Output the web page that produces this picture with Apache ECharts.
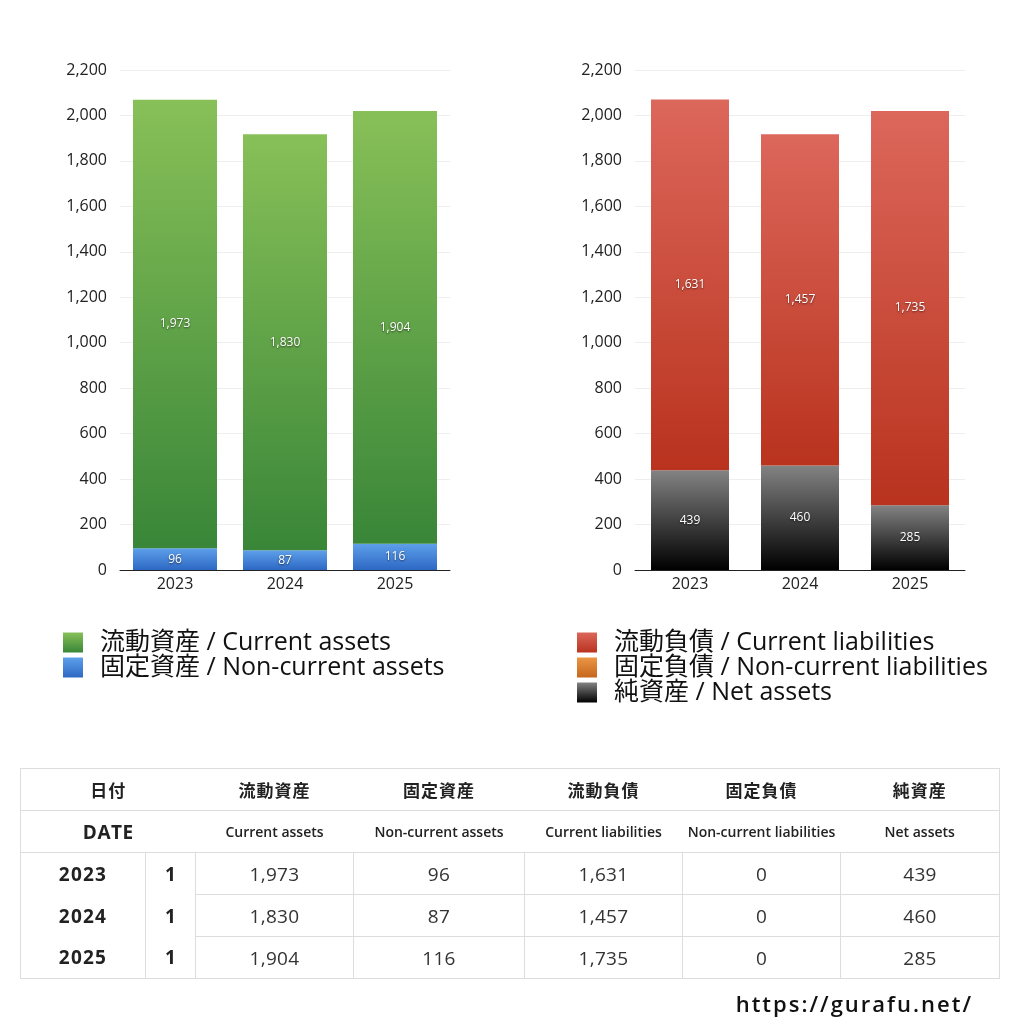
<!DOCTYPE html>
<html><head><meta charset="utf-8">
<script src="https://cdn.jsdelivr.net/npm/echarts@6/dist/echarts.min.js"></script>
<style>
html,body{margin:0;padding:0;background:#fff;}
#chart{position:absolute;left:0;top:0;width:1024px;height:1024px;}
#tbl{position:absolute;left:20px;top:768px;width:979px;border-collapse:collapse;table-layout:fixed;
  font-family:'Open Sans','Noto Sans CJK JP',sans-serif;color:#222;border:1px solid #ddd;}
#tbl td{padding:0;text-align:center;vertical-align:middle;height:41px;white-space:nowrap;overflow:hidden;}
#tbl tr.h1 td{font-size:17px;font-weight:700;border-bottom:1px solid #ddd;letter-spacing:1px;font-family:'Noto Sans CJK JP',sans-serif;}
#tbl tr.h2 td{font-size:14px;font-weight:600;border-bottom:1px solid #ddd;}
#tbl tr.h2 td.date{font-size:19px;font-weight:700;letter-spacing:0.5px;}
#tbl td.yr{font-size:19px;font-weight:700;letter-spacing:1.2px;}
#tbl td.one{font-size:19px;font-weight:700;border-left:1px solid #ddd;}
#tbl td.val{font-size:19px;font-weight:400;color:#333;border-left:1px solid #ddd;border-bottom:1px solid #ddd;letter-spacing:0.3px;}
#url{position:absolute;left:660px;top:988px;width:313px;text-align:right;font-family:'Open Sans','Noto Sans',sans-serif;
  font-size:22px;font-weight:600;color:#111;line-height:30px;letter-spacing:2px;}
</style></head><body>
<div id="chart"></div>
<table id="tbl"></table>
<div id="url">https://gurafu.net/</div>
<script>
const years = ['2023', '2024', '2025'];
const currentAssets = [1973, 1830, 1904];
const nonCurrentAssets = [96, 87, 116];
const currentLiabilities = [1631, 1457, 1735];
const nonCurrentLiabilities = [0, 0, 0];
const netAssets = [439, 460, 285];
const monthCol = [1, 1, 1];
const headerJa = ['流動資産', '固定資産', '流動負債', '固定負債', '純資産'];
const headerEn = ['Current assets', 'Non-current assets', 'Current liabilities', 'Non-current liabilities', 'Net assets'];
const yMin = 0, yMax = 2200, yInterval = 200;

const FONT = "'Open Sans','Noto Sans CJK JP',sans-serif";
function grad(top, bottom) {
  return new echarts.graphic.LinearGradient(0, 0, 0, 1, [{offset: 0, color: top}, {offset: 1, color: bottom}]);
}
const fmt = v => v.toLocaleString('en-US');
const label = {
  show: true, position: 'inside', color: '#fff', fontSize: 12, fontFamily: FONT,
  textShadowColor: 'rgba(0,0,0,0.6)', textShadowBlur: 2, textShadowOffsetY: 1,
  formatter: p => p.value ? fmt(p.value) : ''
};
const names = headerJa.map((j, i) => j + ' / ' + headerEn[i]);

function xAx(gi) {
  return {
    type: 'category', gridIndex: gi, data: years,
    axisLine: {lineStyle: {color: '#222', width: 1}}, axisTick: {show: false},
    axisLabel: {fontSize: 16, color: '#222', margin: 6, fontFamily: FONT}
  };
}
function yAx(gi) {
  return {
    type: 'value', gridIndex: gi, min: yMin, max: yMax, interval: yInterval,
    axisLine: {show: false}, axisTick: {show: false},
    splitLine: {lineStyle: {color: '#eeeeee'}},
    axisLabel: {fontSize: 16, color: '#222', margin: 13, fontFamily: FONT, formatter: v => fmt(v)}
  };
}
const legendText = {fontSize: 25, color: '#111', fontFamily: FONT, padding: [0, 0, 0, 12], lineHeight: 24};

const option = {
  backgroundColor: '#fff',
  animation: false,
  grid: [
    {left: 120, right: 574, top: 70, bottom: 454},
    {left: 635, right: 59, top: 70, bottom: 454}
  ],
  xAxis: [xAx(0), xAx(1)],
  yAxis: [yAx(0), yAx(1)],
  legend: [
    {left: 63, top: 630, padding: 0, orient: 'vertical', icon: 'rect', itemWidth: 20, itemHeight: 20, itemGap: 0,
     selectedMode: false, data: [names[0], names[1]], textStyle: legendText},
    {left: 577, top: 630, padding: 0, orient: 'vertical', icon: 'rect', itemWidth: 20, itemHeight: 20, itemGap: 0,
     selectedMode: false, data: [names[2], names[3], names[4]], textStyle: legendText}
  ],
  series: [
    {name: names[1], type: 'bar', stack: 'a', xAxisIndex: 0, yAxisIndex: 0, barWidth: 84,
     data: nonCurrentAssets, itemStyle: {color: grad('#5ea0ea', '#2d68c4')}, label},
    {name: names[0], type: 'bar', stack: 'a', xAxisIndex: 0, yAxisIndex: 0, barWidth: 84,
     data: currentAssets, itemStyle: {color: grad('#88c058', '#398638')}, label},
    {name: names[4], type: 'bar', stack: 'l', xAxisIndex: 1, yAxisIndex: 1, barWidth: 78,
     data: netAssets, itemStyle: {color: grad('#838383', '#000000')}, label},
    {name: names[3], type: 'bar', stack: 'l', xAxisIndex: 1, yAxisIndex: 1, barWidth: 78,
     data: nonCurrentLiabilities, itemStyle: {color: grad('#eb9645', '#c6661c')}, label},
    {name: names[2], type: 'bar', stack: 'l', xAxisIndex: 1, yAxisIndex: 1, barWidth: 78,
     data: currentLiabilities, itemStyle: {color: grad('#dc675b', '#b9331e')}, label}
  ]
};
echarts.init(document.getElementById('chart'), null, {renderer: 'canvas'}).setOption(option);

// table built from the arrays
const tbl = document.getElementById('tbl');
let html = '<colgroup><col style="width:125px"><col style="width:50px"><col style="width:158px"><col style="width:171px"><col style="width:158px"><col style="width:158px"><col style="width:159px"></colgroup>';
html += '<tr class="h1"><td colspan="2">日付</td>' + headerJa.map(h => '<td>' + h + '</td>').join('') + '</tr>';
html += '<tr class="h2"><td colspan="2" class="date">DATE</td>' + headerEn.map(h => '<td>' + h + '</td>').join('') + '</tr>';
years.forEach((y, i) => {
  const vals = [currentAssets[i], nonCurrentAssets[i], currentLiabilities[i], nonCurrentLiabilities[i], netAssets[i]];
  html += '<tr><td class="yr">' + y + '</td><td class="one">' + monthCol[i] + '</td>' +
    vals.map(v => '<td class="val">' + fmt(v) + '</td>').join('') + '</tr>';
});
tbl.innerHTML = html;
</script>
</body></html>
